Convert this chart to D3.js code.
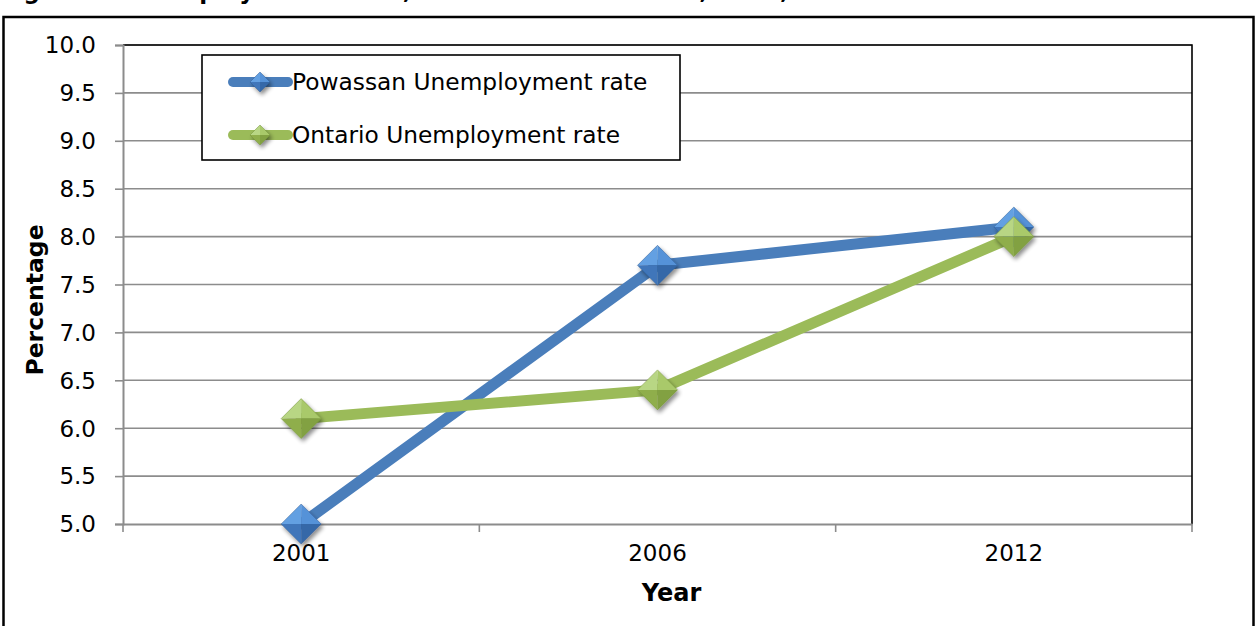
<!DOCTYPE html>
<html>
<head>
<meta charset="utf-8">
<script src="https://cdn.jsdelivr.net/npm/d3@7"></script>
<style>
  html, body { margin: 0; padding: 0; background: #fff; }
  svg { display: block; }
  text { font-family: "DejaVu Sans", Verdana, sans-serif; }
</style>
</head>
<body>
<script>
// Unemployment rates (%) by census year
const years = ["2001", "2006", "2012"];
const powassanRate = [5.0, 7.7, 8.1];
const ontarioRate = [6.1, 6.4, 8.0];
const yTickValues = [5.0, 5.5, 6.0, 6.5, 7.0, 7.5, 8.0, 8.5, 9.0, 9.5, 10.0];
const seriesNames = ["Powassan Unemployment rate", "Ontario Unemployment rate"];
const titleText = "Figure 6: Unemployment Rates, Powassan vs. Ontario, 2001, 2006 and 2012";

const W = 1256, H = 626;
const plot = { left: 123, right: 1192, top: 45, bottom: 524 };

const svg = d3.select("body").append("svg").attr("width", W).attr("height", H);
const defs = svg.append("defs");

const shadow = defs.append("filter").attr("id", "mshadow")
  .attr("x", "-50%").attr("y", "-50%").attr("width", "200%").attr("height", "200%");
shadow.append("feGaussianBlur").attr("in", "SourceAlpha").attr("stdDeviation", 2.2).attr("result", "b");
shadow.append("feOffset").attr("dx", 2).attr("dy", 3).attr("result", "o");
shadow.append("feComponentTransfer").append("feFuncA").attr("type", "linear").attr("slope", 0.45);
const merge = shadow.append("feMerge");
merge.append("feMergeNode");
merge.append("feMergeNode").attr("in", "SourceGraphic");

// Caption above the frame (runs off the top edge of the page)
svg.append("text")
  .attr("x", 0).attr("y", -1)
  .attr("font-size", 23).attr("font-weight", "bold").attr("fill", "#000")
  .text(titleText);

// Outer frame
svg.append("rect")
  .attr("x", 3.5).attr("y", 17).attr("width", 1250).attr("height", 640)
  .attr("fill", "none").attr("stroke", "#000").attr("stroke-width", 2.5);

const x = d3.scaleBand().domain(years).range([plot.left, plot.right]);
const y = d3.scaleLinear().domain([5, 10]).range([plot.bottom, plot.top]);

// Horizontal gridlines
svg.append("g").selectAll("line").data(yTickValues.filter(v => v > 5)).join("line")
  .attr("x1", plot.left).attr("x2", plot.right)
  .attr("y1", d => y(d)).attr("y2", d => y(d))
  .attr("stroke", "#8c8c8c").attr("stroke-width", 1.6);

// Plot border (top and right)
svg.append("path")
  .attr("d", `M${plot.left},${plot.top}H${plot.right}V${plot.bottom}`)
  .attr("fill", "none").attr("stroke", "#000").attr("stroke-width", 1.6);

// Y axis
const yAxis = d3.axisLeft(y).tickValues(yTickValues).tickFormat(d3.format(".1f")).tickSize(8);
const gy = svg.append("g").attr("transform", `translate(${plot.left},0)`).call(yAxis);
gy.select(".domain").attr("stroke", "#8c8c8c").attr("stroke-width", 2);
gy.selectAll(".tick line").attr("stroke", "#8c8c8c").attr("stroke-width", 1.6);
gy.selectAll(".tick text").attr("font-size", 23).attr("fill", "#000")
  .attr("font-family", "DejaVu Sans, sans-serif").attr("x", -27).attr("dy", "0.34em");

// X axis with boundary ticks between categories
const xAxis = d3.axisBottom(x).tickSize(0).tickPadding(21);
const gx = svg.append("g").attr("transform", `translate(0,${plot.bottom})`).call(xAxis);
gx.select(".domain").attr("stroke", "#8c8c8c").attr("stroke-width", 2);
gx.selectAll(".tick text").attr("font-size", 23).attr("fill", "#000")
  .attr("font-family", "DejaVu Sans, sans-serif");
const bounds = years.map(d => x(d)).concat([x(years[years.length - 1]) + x.bandwidth()]);
svg.append("g").selectAll("line").data(bounds).join("line")
  .attr("x1", d => d).attr("x2", d => d)
  .attr("y1", plot.bottom).attr("y2", plot.bottom + 8)
  .attr("stroke", "#8c8c8c").attr("stroke-width", 1.6);

// Axis titles
svg.append("text")
  .attr("x", x("2006") + x.bandwidth() / 2 + 14).attr("y", 601)
  .attr("text-anchor", "middle").attr("font-size", 24).attr("font-weight", "bold")
  .text("Year");
svg.append("text")
  .attr("transform", `translate(43,300) rotate(-90)`)
  .attr("text-anchor", "middle").attr("font-size", 23.5).attr("font-weight", "bold")
  .text("Percentage");

// Series
const series = [
  { name: seriesNames[0], values: powassanRate, line: "#4a7ebb",
    facets: ["#64a0e2", "#5592d8", "#3f76ba", "#3568a8"], edge: "#2c5a94" },
  { name: seriesNames[1], values: ontarioRate, line: "#9bbb59",
    facets: ["#b8d684", "#a9c96a", "#8fae4c", "#82a142"], edge: "#6f8f35" }
];

const line = d3.line().x((d, i) => x(years[i]) + x.bandwidth() / 2).y(d => y(d));

function diamond(g, cx, cy, r, s) {
  const grp = g.append("g").attr("transform", `translate(${cx},${cy})`).attr("filter", "url(#mshadow)");
  const pts = { t: [0, -r], rt: [r, 0], b: [0, r], l: [-r, 0], c: [0, 0] };
  const tri = (a, b2, c) => `M${a}L${b2}L${c}Z`;
  grp.append("path").attr("d", tri(pts.l, pts.t, pts.c)).attr("fill", s.facets[0]);
  grp.append("path").attr("d", tri(pts.t, pts.rt, pts.c)).attr("fill", s.facets[1]);
  grp.append("path").attr("d", tri(pts.l, pts.b, pts.c)).attr("fill", s.facets[2]);
  grp.append("path").attr("d", tri(pts.b, pts.rt, pts.c)).attr("fill", s.facets[3]);
  grp.append("path").attr("d", `M0,${-r}L${r},0L0,${r}L${-r},0Z`)
    .attr("fill", "none").attr("stroke", s.edge).attr("stroke-width", 0.8).attr("stroke-opacity", 0.6);
}

series.forEach(s => {
  svg.append("path").datum(s.values).attr("d", line)
    .attr("fill", "none").attr("stroke", s.line).attr("stroke-width", 11)
    .attr("stroke-linejoin", "round").attr("stroke-linecap", "round");
});
series.forEach(s => {
  const g = svg.append("g");
  s.values.forEach((v, i) => diamond(g, x(years[i]) + x.bandwidth() / 2, y(v), 20, s));
});

// Legend
const lg = svg.append("g");
lg.append("rect").attr("x", 202).attr("y", 55).attr("width", 478).attr("height", 105)
  .attr("fill", "#fff").attr("stroke", "#000").attr("stroke-width", 1.6);
series.forEach((s, i) => {
  const ly = 82 + i * 53;
  lg.append("line").attr("x1", 233).attr("x2", 288).attr("y1", ly).attr("y2", ly)
    .attr("stroke", s.line).attr("stroke-width", 10).attr("stroke-linecap", "round");
  diamond(lg, 260, ly, 10, s);
  lg.append("text").attr("x", 292).attr("y", ly + 8)
    .attr("font-size", 23.3).attr("fill", "#000").text(s.name);
});
</script>
</body>
</html>
